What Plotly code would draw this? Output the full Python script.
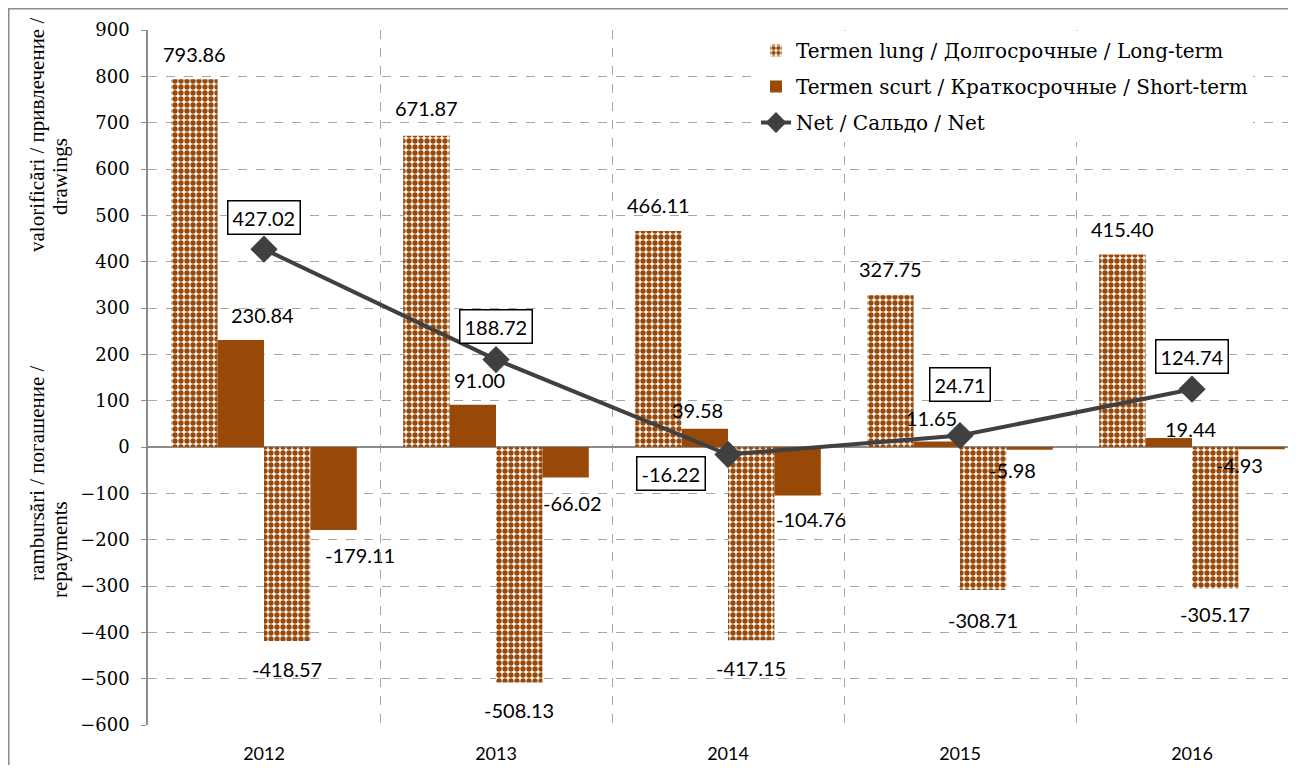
import plotly.graph_objects as go

years = [2012, 2013, 2014, 2015, 2016]
long_draw = [793.86, 671.87, 466.11, 327.75, 415.40]
short_draw = [230.84, 91.00, 39.58, 11.65, 19.44]
long_repay = [-418.57, -508.13, -417.15, -308.71, -305.17]
short_repay = [-179.11, -66.02, -104.76, -5.98, -4.93]
net = [427.02, 188.72, -16.22, 24.71, 124.74]

name_long = "Termen lung / Долгосрочные / Long-term"
name_short = "Termen scurt / Краткосрочные / Short-term"
name_net = "Net / Сальдо / Net"

BROWN = "#984807"
DARK = "#404040"
GRID = "#a6a6a6"
AXIS = "#8c8c8c"
SANS = "Lato, Open Sans, sans-serif"
SERIF = "Liberation Serif, serif"
SERIF_W = "DejaVu Serif, serif"

# page geometry (browser body adds an 8px margin)
FIG_W, FIG_H = 1280, 757
ML, MT, MB = 140, 22, 40
PW = FIG_W - ML
PH = FIG_H - MT - MB
OFF = 8

def px(page_x):
    return (page_x - OFF - ML) / PW

def py(page_y):
    return (MT + PH - (page_y - OFF)) / PH

checker = dict(shape=".", fgcolor=BROWN, bgcolor="white", size=6, solidity=0.62, fillmode="replace")

fig = go.Figure()

series = [
    (long_draw, name_long, checker, True, "long"),
    (short_draw, name_short, None, True, "short"),
    (long_repay, name_long, checker, False, "long"),
    (short_repay, name_short, None, False, "short"),
]
for vals, name, pattern, show, grp in series:
    fig.add_trace(go.Bar(
        x=years, y=vals, name=name, showlegend=show, legendgroup=grp,
        marker=dict(color=BROWN if pattern is None else "white", pattern=pattern,
                    line=dict(width=0)),
        hoverinfo="x+y",
    ))

fig.add_trace(go.Scatter(
    x=years, y=net, name=name_net, mode="lines+markers", legendgroup="net",
    line=dict(color=DARK, width=4),
    marker=dict(symbol="diamond", size=21, color=DARK),
    cliponaxis=False,
))

# bar value labels (group of 4 bars, each 0.2 category wide)
bar_w = 0.2
label_dx = [
    [0, 0, 0, 0, 0],
    [22, 7, -7, -5, 22],
    [0, 0, 0, 0, 0],
    [26, 7, 13, -17, -22],
]
label_dy = [
    [25, 28, 26, 26, 26],
    [25, 25, 19, 24, 9],
    [28, 28, 28, 30, 26],
    [25, 25, 23, 20, 16],
]
for i, (vals, _, _, _, _) in enumerate(series):
    off = (i - 1.5) * bar_w
    for j, (yr, v) in enumerate(zip(years, vals)):
        fig.add_annotation(
            x=yr + off, y=v, text=f"{v:.2f}", showarrow=False,
            xshift=label_dx[i][j], yshift=label_dy[i][j] if v >= 0 else -label_dy[i][j],
            font=dict(family=SANS, size=20, color="black"),
            xanchor="center", yanchor="middle",
        )

# boxed labels for net values
net_offsets = [(0, 32), (0, 33), (-57, -19), (0, 51), (0, 33)]
for yr, v, (dx, dy) in zip(years, net, net_offsets):
    fig.add_annotation(
        x=yr, y=v, text=f"{v:.2f}", showarrow=False, xshift=dx, yshift=dy,
        font=dict(family=SANS, size=20, color="black"),
        bgcolor="white", bordercolor="black", borderwidth=1.5, borderpad=4,
        xanchor="center", yanchor="middle",
    )

# y-axis titles (rotated)
for txt, xp, yp in [("valorificări / привлечение /", 37, 135), ("drawings", 60, 177),
                    ("rambursări / погашение /", 37, 473), ("repayments", 60, 550)]:
    fig.add_annotation(
        x=px(xp), y=py(yp), xref="paper", yref="paper",
        text=txt, textangle=-90, showarrow=False,
        font=dict(family=SERIF, size=21, color="black"),
        xanchor="center", yanchor="middle",
    )

# outer chart frame
fig.add_shape(type="rect", xref="paper", yref="paper",
              x0=(0.75 - ML) / PW, x1=1.2, y0=-0.3, y1=(MT + PH - 0.75) / PH,
              line=dict(color=AXIS, width=1.5), layer="below")

fig.update_layout(
    width=FIG_W, height=FIG_H, autosize=False,
    margin=dict(l=ML, r=0, t=MT, b=MB, pad=0),
    paper_bgcolor="white", plot_bgcolor="white",
    barmode="group", bargap=0.2, bargroupgap=0,
    legend=dict(x=px(756), y=py(31), xanchor="left", yanchor="top",
                bgcolor="white", font=dict(family=SERIF_W, size=20, color="black"),
                traceorder="grouped", tracegroupgap=7),
    xaxis=dict(
        range=[2011.5, 2011.5 + PW / 232.0], tickvals=years, ticktext=[str(y) for y in years],
        showgrid=False, showline=False, ticks="", zeroline=False,
        tickfont=dict(family=SANS, size=18, color="black"), ticklabelstandoff=16,
        minor=dict(tickvals=[2012.5, 2013.5, 2014.5, 2015.5], showgrid=True,
                   gridcolor=GRID, griddash="dash", gridwidth=1),
    ),
    yaxis=dict(
        range=[-600, 900], dtick=100, tickformat="d",
        showgrid=True, gridcolor=GRID, griddash="dash", gridwidth=1,
        zeroline=True, zerolinecolor=AXIS, zerolinewidth=1.5,
        showline=True, linecolor=AXIS, linewidth=1.5,
        ticks="outside", ticklen=5, tickcolor=AXIS,
        tickfont=dict(family=SERIF_W, size=18, color="black"), ticklabelstandoff=8,
    ),
    showlegend=True,
)

fig.write_html("out.html")
